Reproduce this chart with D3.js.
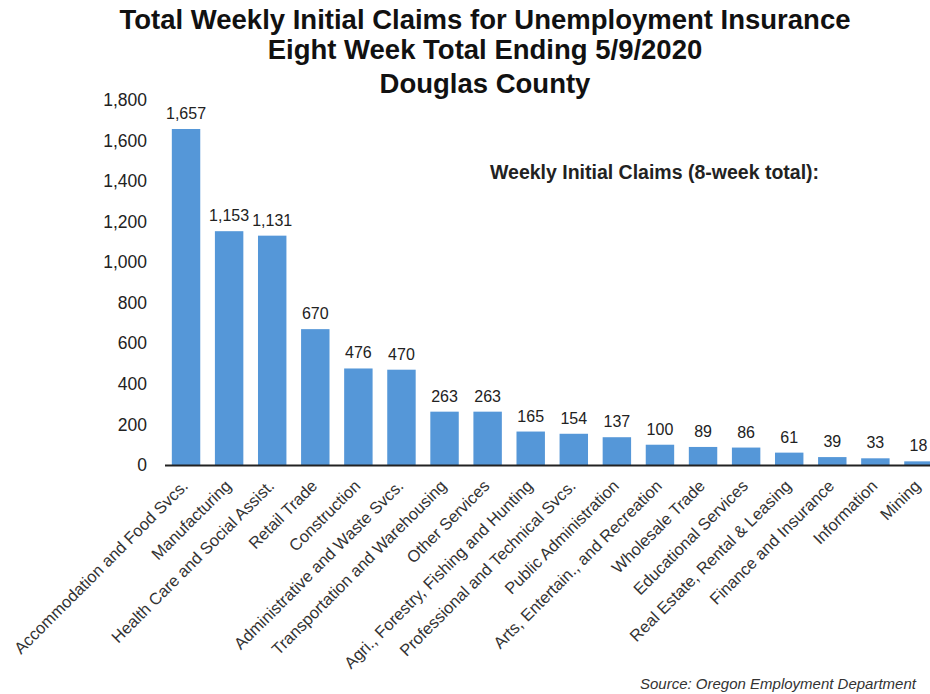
<!DOCTYPE html>
<html>
<head>
<meta charset="utf-8">
<script src="https://cdn.jsdelivr.net/npm/d3@7"></script>
<style>
  body { margin: 0; background: #fff; }
  text { font-family: "Liberation Sans", Arial, sans-serif; }
</style>
</head>
<body>
<svg width="930" height="694"></svg>
<script>
const industries = [
  "Accommodation and Food Svcs.", "Manufacturing", "Health Care and Social Assist.",
  "Retail Trade", "Construction", "Administrative and Waste Svcs.",
  "Transportation and Warehousing", "Other Services", "Agri., Forestry, Fishing and Hunting",
  "Professional and Technical Svcs.", "Public Administration", "Arts, Entertain., and Recreation",
  "Wholesale Trade", "Educational Services", "Real Estate, Rental & Leasing",
  "Finance and Insurance", "Information", "Mining"
];
const claims = [1657, 1153, 1131, 670, 476, 470, 263, 263, 165, 154, 137, 100, 89, 86, 61, 39, 33, 18];
const yTicks = [0, 200, 400, 600, 800, 1000, 1200, 1400, 1600, 1800];
const titleLines = [
  "Total Weekly Initial Claims for Unemployment Insurance",
  "Eight Week Total Ending 5/9/2020",
  "Douglas County"
];

const svg = d3.select("svg");
const data = industries.map((d, i) => ({ name: d, value: claims[i] }));

const x = d3.scaleBand().domain(industries).range([164.5, 940]).paddingInner(0.34).paddingOuter(0.17);
const y = d3.scaleLinear().domain([0, 1800]).range([465, 100]);

// title
svg.selectAll(".title")
  .data(titleLines)
  .join("text")
  .attr("class", "title")
  .attr("x", 485)
  .attr("y", (d, i) => [29, 59, 93][i])
  .attr("text-anchor", "middle")
  .attr("font-weight", "bold")
  .attr("font-size", 27.5)
  .attr("fill", "#111")
  .text((d) => d);

// y axis labels
const yAxis = d3.axisLeft(y).tickValues(yTicks).tickFormat(d3.format(",")).tickSize(0).tickPadding(0);
const yG = svg.append("g").attr("transform", "translate(147,0)").call(yAxis);
yG.select(".domain").remove();
yG.selectAll("text").attr("font-size", 17.5).attr("fill", "#222").attr("font-family", "Liberation Sans, Arial, sans-serif");

// bars
svg.selectAll("rect")
  .data(data)
  .join("rect")
  .attr("x", (d) => x(d.name))
  .attr("y", (d) => y(d.value))
  .attr("width", x.bandwidth())
  .attr("height", (d) => y(0) - y(d.value))
  .attr("fill", "#5597d8");

// value labels
svg.selectAll(".val")
  .data(data)
  .join("text")
  .attr("class", "val")
  .attr("x", (d) => x(d.name) + x.bandwidth() / 2)
  .attr("y", (d) => y(d.value) - 10)
  .attr("text-anchor", "middle")
  .attr("font-size", 16)
  .attr("fill", "#222")
  .text((d) => d3.format(",")(d.value));

// x axis
const xAxis = d3.axisBottom(x).tickSize(0).tickPadding(0);
const xG = svg.append("g").attr("transform", `translate(0,${y(0)})`).call(xAxis);
xG.select(".domain").attr("stroke", "#222").attr("stroke-width", 2);
xG.selectAll(".tick text")
  .attr("font-size", 16.5)
  .attr("fill", "#333")
  .attr("font-family", "Liberation Sans, Arial, sans-serif")
  .attr("text-anchor", "end")
  .attr("dy", 0)
  .attr("transform", "translate(3,22) rotate(-45)");

// inner caption
svg.append("text")
  .attr("x", 490)
  .attr("y", 179)
  .attr("font-weight", "bold")
  .attr("font-size", 19.5)
  .attr("fill", "#222")
  .text("Weekly Initial Claims (8-week total):");

svg.append("text")
  .attr("x", 640)
  .attr("y", 689)
  .attr("font-style", "italic")
  .attr("font-size", 15)
  .attr("fill", "#333")
  .text("Source: Oregon Employment Department");
</script>
</body>
</html>
